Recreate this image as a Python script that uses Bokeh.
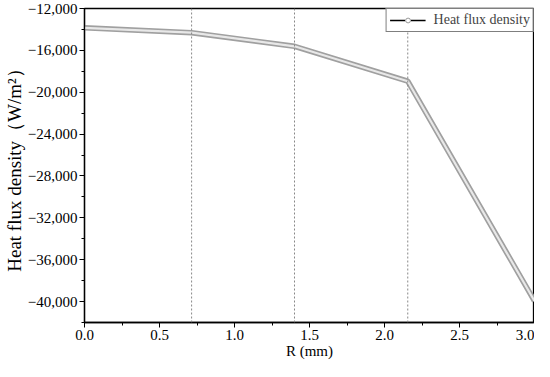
from bokeh.plotting import figure
from bokeh.models import Range1d, Span, Legend, LegendItem, CustomJSTickFormatter, ColumnDataSource, FixedTicker
from bokeh.embed import file_html
from bokeh.resources import INLINE

# Data
R_mm = [0.0, 0.714, 1.40, 2.155, 3.0]
heat_flux = [-13850, -14310, -15610, -18950, -39950]
boundaries = [0.714, 1.40, 2.155]
y_ticks = [-12000, -16000, -20000, -24000, -28000, -32000, -36000, -40000]
x_ticks = [0.0, 0.5, 1.0, 1.5, 2.0, 2.5, 3.0]
series_name = "Heat flux density"

FONT = "Liberation Serif"

p = figure(width=534, height=361, output_backend="svg", toolbar_location=None,
           x_range=Range1d(0, 3.0), y_range=Range1d(-42000, -12000),
           min_border_left=78, min_border_right=0, min_border_top=8, min_border_bottom=26)
p.xgrid.visible = False
p.ygrid.visible = False
p.outline_line_color = "black"
p.outline_line_width = 1.3
p.background_fill_color = "white"
p.border_fill_color = "white"

for b in boundaries:
    p.add_layout(Span(location=b, dimension="height", line_color="#888888",
                      line_dash="2 2", line_width=1))

src = ColumnDataSource(dict(x=R_mm, y=heat_flux))
p.line("x", "y", source=src, line_color="#a0a0a0", line_width=5.5)
p.line("x", "y", source=src, line_color="#e8e8e8", line_width=2.2)

# legend proxies (no visible marks)
proxy = ColumnDataSource(dict(x=[float("nan")], y=[float("nan")]))
lr = p.line("x", "y", source=proxy, line_color="black", line_width=1.5)
gap = p.scatter("x", "y", source=proxy, marker="circle", size=14, fill_color="white",
                line_color="white", line_width=1)
sr = p.scatter("x", "y", source=proxy, marker="circle", size=7, fill_color="white",
               line_color="#999999", line_width=1)
legend = Legend(items=[LegendItem(label=series_name, renderers=[lr, gap, sr])],
                location="top_right", border_line_color="black", border_line_width=1,
                margin=0, padding=3, glyph_width=36, glyph_height=12,
                label_text_font=FONT, label_text_font_size="14px", label_standoff=8,
                label_height=12, spacing=0, background_fill_alpha=1)
p.add_layout(legend)

fmt = CustomJSTickFormatter(code="""
const s = Math.abs(tick).toFixed(0).replace(/\\B(?=(\\d{3})+(?!\\d))/g, ",");
return (tick < 0 ? "\\u2212" : "") + s;
""")
p.yaxis.ticker = FixedTicker(ticks=y_ticks, minor_ticks=[v - 2000 for v in y_ticks] + [-10000])
p.yaxis.formatter = fmt
p.xaxis.ticker = FixedTicker(ticks=x_ticks, minor_ticks=[v + 0.25 for v in x_ticks])
p.xaxis.formatter = CustomJSTickFormatter(code="return tick.toFixed(1);")

for ax in (p.xaxis[0], p.yaxis[0]):
    ax.axis_line_color = "black"
    ax.axis_line_width = 1.3
    ax.major_tick_line_color = "black"
    ax.minor_tick_line_color = "black"
    ax.major_tick_out = 5
    ax.major_tick_in = 0
    ax.minor_tick_out = 3
    ax.minor_tick_in = 0
    ax.major_label_text_font = FONT
    ax.major_label_text_font_size = "15px"
    ax.major_label_text_color = "black"
    ax.axis_label_text_font = FONT
    ax.axis_label_text_font_size = "15px"
    ax.axis_label_text_font_style = "normal"
    ax.axis_label_text_color = "black"

p.xaxis.axis_label = "R (mm)"
p.yaxis.axis_label = "Heat flux density（W/m²）"
p.yaxis.axis_label_text_font_size = "19px"
p.xaxis.major_label_standoff = 2
p.xaxis.axis_label_standoff = 0
p.yaxis.major_label_standoff = 2
p.yaxis.axis_label_standoff = 0

open("out.html", "w").write(file_html(p, INLINE))
